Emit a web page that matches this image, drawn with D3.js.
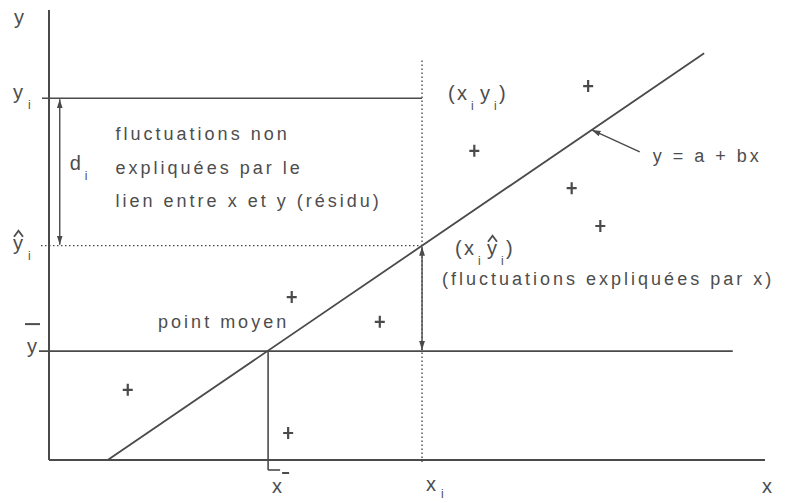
<!DOCTYPE html>
<meta charset="utf-8">
<script src="https://d3js.org/d3.v7.min.js"></script>
<style>
  body { margin: 0; background: #fff; }
  text { font-family: "Liberation Sans", Arial, sans-serif; fill: #4d4d4d; }
</style>
<div id="chart"></div>
<script>
// scatter points (data units, 0-100 on both axes)
var ptsX = [11.0, 33.4, 33.9, 46.2, 59.4, 75.3, 73.0, 77.0];
var ptsY = [15.6, 6.0, 36.2, 30.7, 68.7, 83.1, 60.4, 52.0];

// regression y = a + bx
var a = -8.9, b = 1.085;
var lineX = [8.2, 91.5];

// mean point and the studied observation
var xBar = 30.6, yBar = 24.2;
var xi = 52.1, yi = 80.4;
var yHat = a + b * xi;

var textBlock = ["fluctuations non", "expliquées par le", "lien entre x et y (résidu)"];
var explained = "(fluctuations expliquées par x)";
var eqLabel = "y = a + bx";
var meanLabel = "point moyen";

var width = 787, height = 503;
var svg = d3.select("#chart").append("svg")
    .attr("width", width).attr("height", height);

var x = d3.scaleLinear().domain([0, 100]).range([49, 765]);
var y = d3.scaleLinear().domain([0, 100]).range([460, 10]);

var ink = "#4a4a4a";

// arrow marker
var defs = svg.append("defs");
defs.append("marker").attr("id", "arr")
  .attr("viewBox", "0 0 10 10").attr("refX", 10).attr("refY", 5)
  .attr("markerWidth", 9).attr("markerHeight", 9)
  .attr("markerUnits", "userSpaceOnUse")
  .attr("orient", "auto-start-reverse")
  .append("path").attr("d", "M0,1.8 L10,5 L0,8.2 Z").attr("fill", ink);

function line(x1, y1, x2, y2, w, dash) {
  var l = svg.append("line")
    .attr("x1", x1).attr("y1", y1).attr("x2", x2).attr("y2", y2)
    .attr("stroke", ink).attr("stroke-width", w || 1.6);
  if (dash) l.attr("stroke-dasharray", dash);
  return l;
}

// axes
line(x(0), y(0), x(0), y(100), 2);
line(x(0), y(0), x(100), y(0), 2);

// reference lines
line(x(0) - 7, y(yi), x(xi), y(yi), 1.6);
line(x(0) - 8, y(yHat), x(xi), y(yHat), 1.4, "1.5,2.5");
line(x(0) - 10, y(yBar), x(95.5), y(yBar), 1.6);
line(x(xi), y(0) + 2, x(xi), y(89.3), 1.4, "1.5,2.5");

// mean point drop line
line(x(xBar), y(yBar), x(xBar), y(0) + 10, 1.6);
line(x(xBar), y(0) + 10, x(xBar) + 12, y(0) + 10, 1.6);

// regression line
line(x(lineX[0]), y(a + b * lineX[0]), x(lineX[1]), y(a + b * lineX[1]), 1.8);

// d_i arrow (double)
line(x(1.5), y(yi) + 1, x(1.5), y(yHat) - 1, 1.4)
  .attr("marker-end", "url(#arr)").attr("marker-start", "url(#arr)");

// explained arrow
line(x(xi), y(yHat) + 1, x(xi), y(yBar) - 1, 1.4)
  .attr("marker-end", "url(#arr)").attr("marker-start", "url(#arr)");

// equation leader
var lx = 75.8;
line(x(lx) + 48, y(a + b * lx) + 22, x(lx), y(a + b * lx), 1.4)
  .attr("marker-end", "url(#arr)");

// crosses
svg.selectAll(".pt").data(ptsX).enter().append("path")
  .attr("class", "pt")
  .attr("d", function(d, i) {
    var cx = x(d), cy = y(ptsY[i]);
    return "M" + (cx - 5) + "," + cy + "H" + (cx + 5) +
           "M" + cx + "," + (cy - 6) + "V" + (cy + 6);
  })
  .attr("stroke", ink).attr("stroke-width", 2.2);

// texts
var ls = "3px";
function txt(tx, ty, s, size) {
  return svg.append("text").attr("x", tx).attr("y", ty)
    .attr("font-size", size || 18).attr("letter-spacing", ls).text(s);
}

textBlock.forEach(function(s, i) {
  txt(x(9.3), 140 + i * 33.5, s);
});
txt(x(xi) + 20, y(yBar) - 66, explained);
txt(x(xBar) - 110, y(yBar) - 23, meanLabel);
txt(x(lx) + 61, y(a + b * lx) + 32, eqLabel);

// base letter plus small subscript i
function sym(tx, ty, base, hat, sub) {
  var g = svg.append("g");
  g.append("text").attr("x", tx).attr("y", ty).attr("font-size", 20).text(base);
  g.append("text").attr("x", tx + 15).attr("y", ty + (sub || 10)).attr("font-size", 12).text("i");
  if (hat) g.append("path")
    .attr("d", "M" + (tx + 1) + "," + (ty - 13) + "L" + (tx + 5.5) + "," + (ty - 19) + "L" + (tx + 10) + "," + (ty - 13))
    .attr("fill", "none").attr("stroke", "#4d4d4d").attr("stroke-width", 1.8);
  return g;
}

// axis names
svg.append("text").attr("x", 14).attr("y", 24).attr("font-size", 20).text("y");
svg.append("text").attr("x", x(100) - 3).attr("y", y(0) + 33).attr("font-size", 20).text("x");

// y_i, ŷ_i, ȳ on the vertical axis
sym(13, y(yi) + 1, "y");
sym(13, y(yHat) + 4, "y", true);
svg.append("text").attr("x", 27).attr("y", y(yBar) + 2).attr("font-size", 20).text("y");
line(25, y(yBar) - 27, 40, y(yBar) - 27, 2).attr("stroke", "#4d4d4d");

// d_i beside its arrow
sym(x(1.5) + 10, (y(yi) + y(yHat)) / 2 - 2, "d");

// x_i and x̄ under the horizontal axis
sym(x(xi) + 4, y(0) + 31, "x", false, 7);
svg.append("text").attr("x", x(xBar) + 4).attr("y", y(0) + 33).attr("font-size", 20).text("x");
line(x(xBar) + 14, y(0) + 13, x(xBar) + 21, y(0) + 13, 2).attr("stroke", "#4d4d4d");

// (x_i y_i) and (x_i ŷ_i)
function pair(tx, ty, hat) {
  var g = svg.append("g");
  g.append("text").attr("x", tx).attr("y", ty).attr("font-size", 20).text("(");
  g.append("text").attr("x", tx + 9).attr("y", ty).attr("font-size", 20).text("x");
  g.append("text").attr("x", tx + 23).attr("y", ty + 10).attr("font-size", 12).text("i");
  g.append("text").attr("x", tx + 32).attr("y", ty).attr("font-size", 20).text("y");
  g.append("text").attr("x", tx + 46).attr("y", ty + 10).attr("font-size", 12).text("i");
  g.append("text").attr("x", tx + 51).attr("y", ty).attr("font-size", 20).text(")");
  if (hat) g.append("path")
    .attr("d", "M" + (tx + 33) + "," + (ty - 13) + "L" + (tx + 37.5) + "," + (ty - 19) + "L" + (tx + 42) + "," + (ty - 13))
    .attr("fill", "none").attr("stroke", "#4d4d4d").attr("stroke-width", 1.8);
}
pair(x(xi) + 26, y(yi) + 2);
pair(x(xi) + 33, y(yHat) + 9, true);
</script>
